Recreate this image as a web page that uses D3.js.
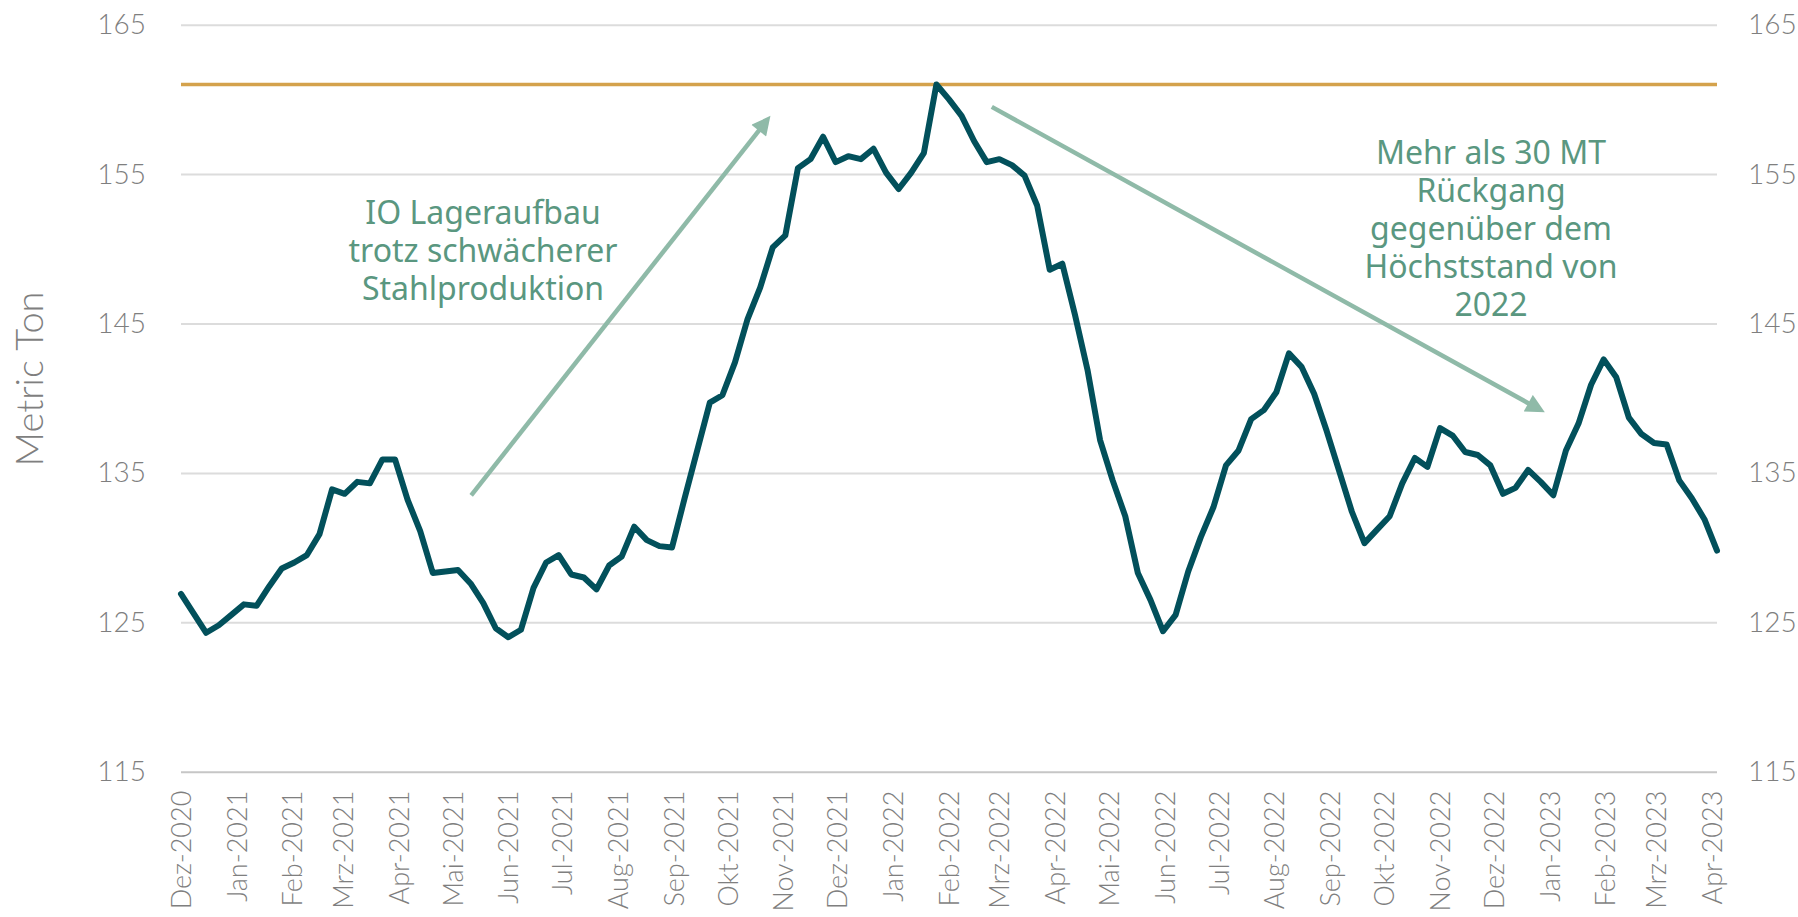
<!DOCTYPE html>
<html>
<head>
<meta charset="utf-8">
<script src="https://cdn.jsdelivr.net/npm/d3@7"></script>
<style>
  body { margin: 0; background: #fff; }
  svg { display: block; }
  .tick text { font-family: Lato, 'Open Sans', sans-serif; font-weight: 300; }
</style>
</head>
<body>
<div id="chart"></div>
<script>
// weekly series, first week starts 1 Dec 2020
var firstWeek = new Date(2020, 11, 1);

var values = [
  126.9, 125.6, 124.3, 124.8, 125.5, 126.2, 126.1, 127.4, 128.6, 129.0,
  129.5, 130.9, 133.9, 133.6, 134.4, 134.3, 135.9, 135.9, 133.2, 131.1,
  128.3, 128.4, 128.5, 127.6, 126.3, 124.6, 124.0, 124.5, 127.3, 129.0,
  129.5, 128.2, 128.0, 127.2, 128.8, 129.4, 131.4, 130.5, 130.1, 130.0,
  133.3, 136.5, 139.7, 140.2, 142.4, 145.3, 147.4, 150.1, 150.9, 155.4,
  156.0, 157.5, 155.8, 156.2, 156.0, 156.7, 155.1, 154.0, 155.1, 156.4,
  161.0, 160.0, 158.9, 157.2, 155.8, 156.0, 155.6, 154.9, 152.9, 148.6,
  149.0, 145.6, 141.9, 137.2, 134.5, 132.1, 128.3, 126.5, 124.4, 125.5,
  128.4, 130.7, 132.7, 135.5, 136.5, 138.6, 139.2, 140.4, 143.0, 142.1,
  140.3, 137.8, 135.1, 132.4, 130.3, 131.2, 132.1, 134.3, 136.0, 135.4,
  138.0, 137.5, 136.4, 136.2, 135.5, 133.6, 134.0, 135.2, 134.4, 133.5,
  136.5, 138.3, 140.9, 142.6, 141.4, 138.7, 137.6, 137.0, 136.9, 134.5,
  133.3, 131.9, 129.8
];

var peakLevel = 161;
var yTicks = [115, 125, 135, 145, 155, 165];
var monthNames = ["Jan", "Feb", "Mrz", "Apr", "Mai", "Jun", "Jul", "Aug", "Sep", "Okt", "Nov", "Dez"];

// annotation arrows: [week index, value] from -> to
var arrowUp = [[23.05, 133.5], [46.45, 158.5]];
var arrowDown = [[64.4, 159.5], [107.8, 139.3]];

var noteLeft = ["IO Lageraufbau", "trotz schwächerer", "Stahlproduktion"];
var noteRight = ["Mehr als 30 MT", "Rückgang", "gegenüber dem", "Höchststand von", "2022"];

var W = 1798, H = 917;
var plotLeft = 181, plotRight = 1717, plotTop = 24.7, plotBottom = 771.7;

var dates = values.map(function (v, i) { return d3.timeWeek.offset(firstWeek, i); });
var data = values.map(function (v, i) { return { date: dates[i], value: v }; });

var x = d3.scaleTime()
    .domain([dates[0], dates[dates.length - 1]])
    .range([plotLeft, plotRight]);

var y = d3.scaleLinear()
    .domain([115, 165])
    .range([plotBottom, plotTop]);

function weekX(w) { return x(d3.timeHour.offset(firstWeek, w * 7 * 24)); }

var svg = d3.select("#chart").append("svg")
    .attr("width", W)
    .attr("height", H)
    .style("font-family", "Lato, 'Open Sans', sans-serif");

svg.append("defs").append("marker")
    .attr("id", "head")
    .attr("viewBox", "0 0 10 10")
    .attr("refX", 6)
    .attr("refY", 5)
    .attr("markerWidth", 4.6)
    .attr("markerHeight", 4.2)
    .attr("markerUnits", "strokeWidth")
    .attr("orient", "auto")
    .append("path")
    .attr("d", "M0,0 L10,5 L0,10 z")
    .attr("fill", "#8fbaa8");

// grid
svg.append("g")
    .attr("transform", "translate(" + plotLeft + ",0)")
    .call(d3.axisLeft(y).tickValues(yTicks).tickSize(-(plotRight - plotLeft)).tickFormat(""))
    .call(function (g) { g.select(".domain").remove(); })
    .selectAll("line")
    .attr("stroke", function (d) { return d === 115 ? "#c6c6c6" : "#dcdcdc"; })
    .attr("stroke-width", 2);

// left axis labels
svg.append("g")
    .attr("transform", "translate(" + plotLeft + ",0)")
    .call(d3.axisLeft(y).tickValues(yTicks).tickSize(0).tickPadding(35))
    .call(function (g) { g.select(".domain").remove(); })
    .selectAll("text")
    .attr("fill", "#7f7f7f")
    .style("font-size", "28px");

// right axis labels
svg.append("g")
    .attr("transform", "translate(" + plotRight + ",0)")
    .call(d3.axisRight(y).tickValues(yTicks).tickSize(0).tickPadding(31))
    .call(function (g) { g.select(".domain").remove(); })
    .selectAll("text")
    .attr("fill", "#7f7f7f")
    .style("font-size", "28px");

// bottom axis, month labels rotated
svg.append("g")
    .attr("transform", "translate(0," + plotBottom + ")")
    .call(d3.axisBottom(x)
        .ticks(d3.timeMonth.every(1))
        .tickSize(0)
        .tickFormat(function (d) { return monthNames[d.getMonth()] + "-" + d.getFullYear(); }))
    .call(function (g) { g.select(".domain").remove(); })
    .selectAll("text")
    .attr("transform", "rotate(-90)")
    .attr("text-anchor", "end")
    .attr("x", -19)
    .attr("y", 0)
    .attr("dy", "0.35em")
    .attr("fill", "#7f7f7f")
    .style("font-size", "27px");

// y title
svg.append("text")
    .attr("transform", "translate(30,379) rotate(-90)")
    .attr("text-anchor", "middle")
    .attr("dy", "0.35em")
    .attr("fill", "#7f7f7f")
    .style("font-size", "38px")
    .style("font-weight", 300)
    .text("Metric Ton");

// peak level line
svg.append("line")
    .attr("x1", plotLeft)
    .attr("x2", plotRight)
    .attr("y1", y(peakLevel))
    .attr("y2", y(peakLevel))
    .attr("stroke", "#d4a24c")
    .attr("stroke-width", 3.5);

// arrows
[arrowUp, arrowDown].forEach(function (a) {
    svg.append("line")
        .attr("x1", weekX(a[0][0]))
        .attr("y1", y(a[0][1]))
        .attr("x2", weekX(a[1][0]))
        .attr("y2", y(a[1][1]))
        .attr("stroke", "#8fbaa8")
        .attr("stroke-width", 4.5)
        .attr("marker-end", "url(#head)");
});

// main line
var line = d3.line()
    .x(function (d) { return x(d.date); })
    .y(function (d) { return y(d.value); });

svg.append("path")
    .datum(data)
    .attr("fill", "none")
    .attr("stroke", "#02505b")
    .attr("stroke-width", 6)
    .attr("stroke-linejoin", "round")
    .attr("stroke-linecap", "round")
    .attr("d", line);

// notes
function note(lines, cx, cy) {
    svg.append("text")
        .attr("text-anchor", "middle")
        .attr("fill", "#5a9780")
        .style("font-family", "'Noto Sans', sans-serif")
        .style("font-size", "32px")
        .selectAll("tspan")
        .data(lines)
        .enter().append("tspan")
        .attr("x", cx)
        .attr("y", function (d, i) { return cy + i * 38; })
        .attr("dy", "0.35em")
        .text(function (d) { return d; });
}

note(noteLeft, 483, 213);
note(noteRight, 1491, 153);
</script>
</body>
</html>
